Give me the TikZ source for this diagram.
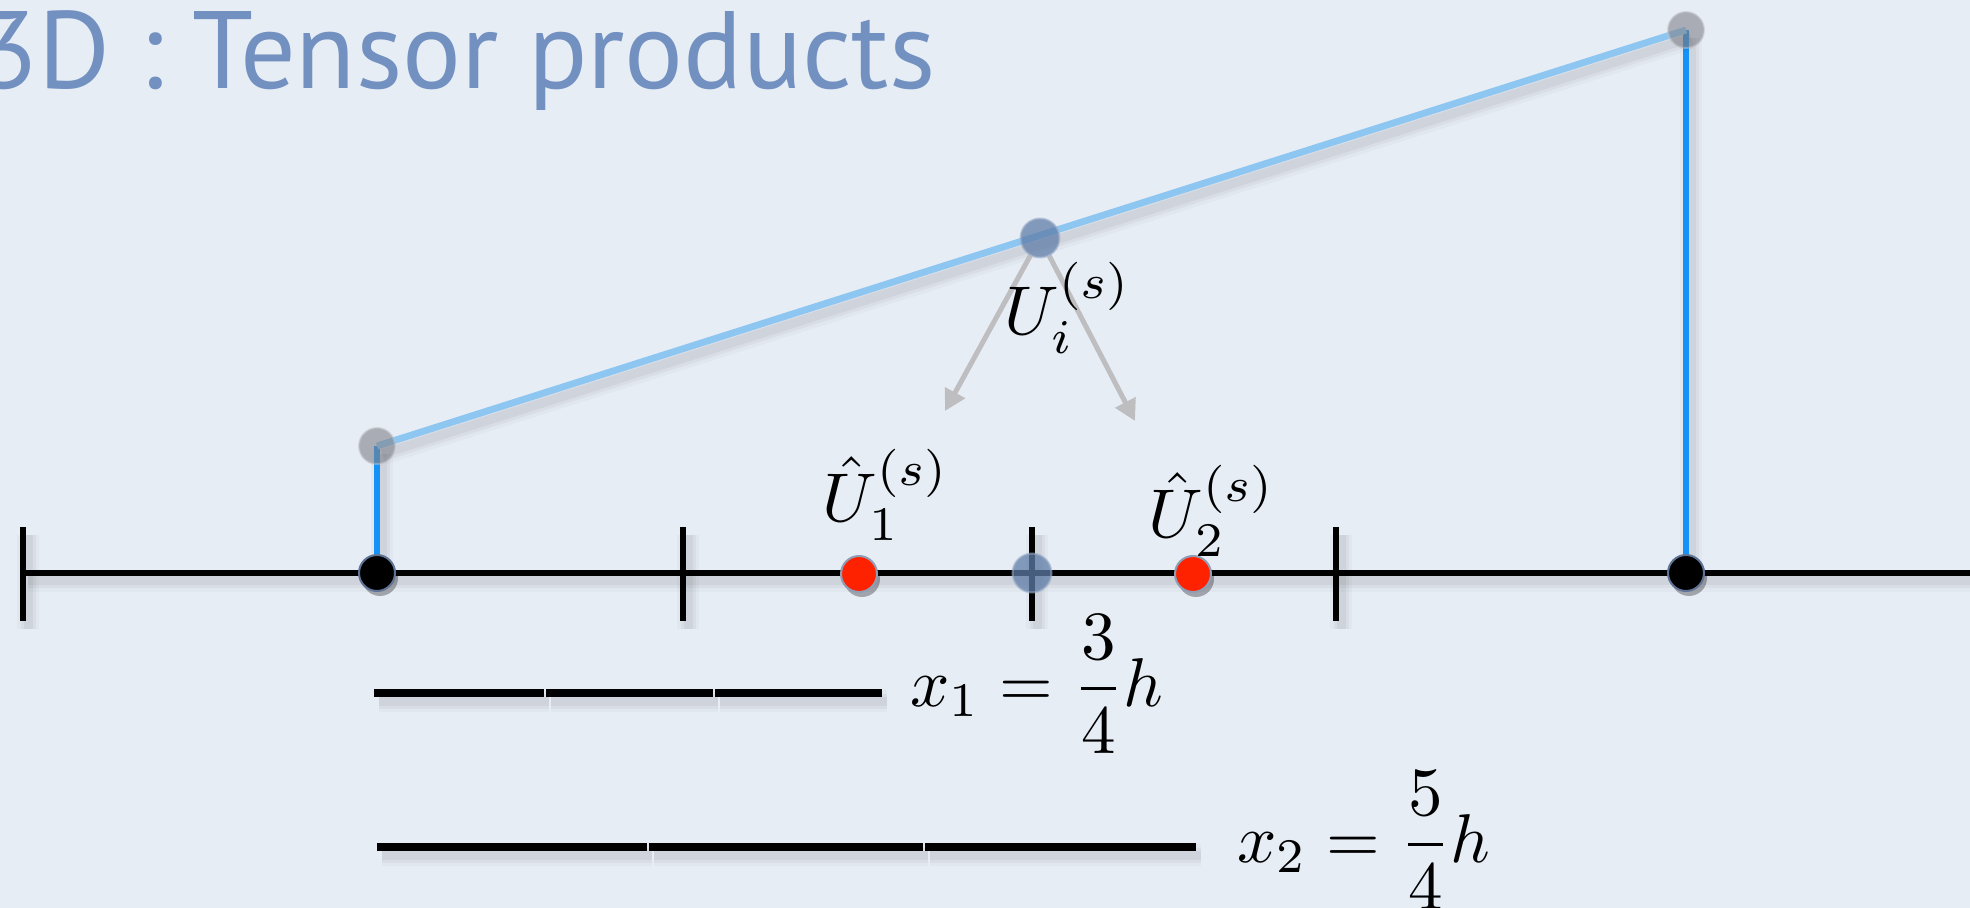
\documentclass[tikz,border=0pt]{standalone}
\usepackage{fontspec}
\newfontfamily\titlefont{PT Sans}
\usetikzlibrary{arrows.meta,shadows}
\definecolor{paper}{RGB}{231,237,245}
\definecolor{titleblue}{RGB}{114,144,192}
\definecolor{vblue}{RGB}{20,146,245}
\definecolor{sblue}{RGB}{142,198,242}
\definecolor{arrowgray}{RGB}{190,190,192}
\definecolor{dotedge}{RGB}{95,115,150}
\definecolor{dotred}{RGB}{255,34,0}
\definecolor{nodeblue}{RGB}{95,125,168}
\definecolor{endgray}{RGB}{128,130,138}
\tikzset{
  sh/.style={preaction={draw=black,draw opacity=0.025,line width=11pt,transform canvas={xshift=2.5pt,yshift=-4pt}},
             preaction={draw=black,draw opacity=0.035,line width=7.5pt,transform canvas={xshift=2.5pt,yshift=-4pt}},
             preaction={draw=black,draw opacity=0.045,line width=4.5pt,transform canvas={xshift=2.5pt,yshift=-4pt}}},
  axisline/.style={sh,draw=black,line width=3.4pt},
  tickline/.style={sh,draw=black,line width=3.4pt},
  vline/.style={sh,draw=vblue,line width=3.4pt},
  sline/.style={sh,draw=sblue,line width=3.4pt},
  segline/.style={sh,draw=black,line width=3.8pt,shorten <=0.4pt,shorten >=0.4pt},
  grayarrow/.style={draw=arrowgray,line width=2.5pt,-{Triangle[length=10.5pt,width=11pt]}},
  dshadow/.style={drop shadow={shadow xshift=1.5pt,shadow yshift=-2.5pt,opacity=0.3,fill=black}},
  blackdot/.style={circle,inner sep=0,minimum size=18pt,fill=black,draw=dotedge,line width=1pt,dshadow},
  reddot/.style={circle,inner sep=0,minimum size=18pt,fill=dotred,draw=dotedge!70,line width=1pt,dshadow},
  bluedot/.style={circle,inner sep=0,minimum size=19.5pt,fill=nodeblue,fill opacity=0.75,draw=nodeblue!60,draw opacity=0.6,line width=1pt},
  enddot/.style={circle,inner sep=0,minimum size=18pt,fill=endgray,fill opacity=0.6,draw=endgray!50,draw opacity=0.5,line width=1pt},
  mathlabel/.style={inner sep=0,scale=3.45},
}
\begin{document}
\begin{tikzpicture}[x=0.5pt,y=-0.5pt]
\useasboundingbox (0,0) rectangle (1970,908);
\fill[paper] (0,0) rectangle (1970,908);

% title
\node[anchor=base east,inner sep=0,text=titleblue,font={\titlefont\fontsize{55pt}{64pt}\selectfont}] (title) at (936,89) {3D : Tensor products};

% coordinates
\coordinate (t0) at (23,573);
\coordinate (t1) at (683,573);
\coordinate (t2) at (1032,573);
\coordinate (t3) at (1336,573);
\coordinate (axend) at (1975,573);
\coordinate (a1) at (945,411);
\coordinate (a2) at (1135,421);
\coordinate (p0) at (373,693);
\coordinate (p1) at (545,693);
\coordinate (p2) at (714,693);
\coordinate (p3) at (883,693);
\coordinate (q0) at (376,847);
\coordinate (q1) at (648,847);
\coordinate (q2) at (924,847);
\coordinate (q3) at (1197,847);

% axis and ticks
\draw[axisline] (t0) -- (axend);
\foreach \t in {t0,t1,t2,t3}{
  \draw[tickline] (\t) ++(0,-46) -- ++(0,94);
}

\path (377,573) coordinate (b1c) (1686,573) coordinate (b2c)
      (377,446) coordinate (g1c) (1686,30) coordinate (g2c)
      (1040,238) coordinate (uc);

% blue lines
\draw[vline] (b1c) -- (g1c);
\draw[vline] (b2c) -- (g2c);
\draw[sline] (g1c) -- (g2c);

% end dots
\node[enddot] (g1) at (g1c) {};
\node[enddot] (g2) at (g2c) {};

% U dot and arrows
\node[circle,inner sep=0,minimum size=19.5pt] (ushape) at (uc) {};
\draw[grayarrow] (ushape) -- (a1);
\draw[grayarrow] (ushape) -- (a2);
\node[bluedot] (u) at (uc) {};

% axis dots
\node[blackdot] (b1) at (b1c) {};
\node[blackdot] (b2) at (b2c) {};
\node[reddot] (r1) at (859,574) {};
\node[reddot] (r2) at (1193,574) {};
\node[bluedot] (m) at (t2) {};

% labels
\node[mathlabel] (lu) at (1068,308) {$U_i^{(s)}$};
\node[mathlabel] (l1) at (886,495) {$\hat{U}_1^{(s)}$};
\node[mathlabel] (l2) at (1212,511) {$\hat{U}_2^{(s)}$};

% bottom segments
\draw[segline] (p0) -- (p1);
\draw[segline] (p1) -- (p2);
\draw[segline] (p2) -- (p3);
\draw[segline] (q0) -- (q1);
\draw[segline] (q1) -- (q2);
\draw[segline] (q2) -- (q3);

\node[mathlabel,anchor=base west] (x1) at (909,706) {$x_1=\displaystyle\frac{3}{4}h$};
\node[mathlabel,anchor=base west] (x2) at (1236,862) {$x_2=\displaystyle\frac{5}{4}h$};
\end{tikzpicture}
\end{document}
